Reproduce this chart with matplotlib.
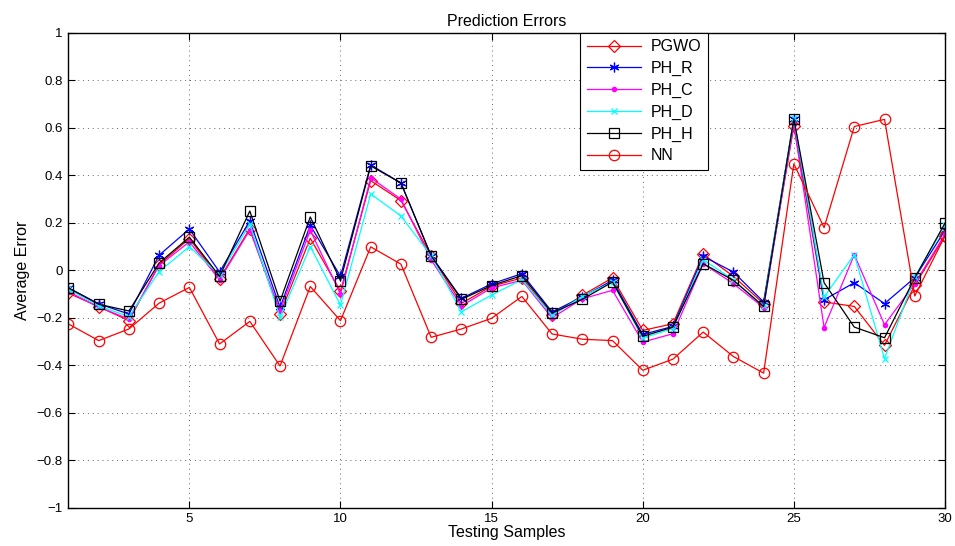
import matplotlib
matplotlib.use('Agg')
import matplotlib.pyplot as plt
from matplotlib.ticker import MultipleLocator, FuncFormatter

samples = list(range(1, 31))

pgwo = [-0.096, -0.153, -0.212, 0.024, 0.134, -0.035, 0.176, -0.184, 0.135, -0.088,
        0.378, 0.294, 0.061, -0.139, -0.067, -0.032, -0.189, -0.105, -0.032, -0.253,
        -0.225, 0.068, -0.025, -0.140, 0.608, -0.133, -0.152, -0.316, -0.063, 0.145]
ph_r = [-0.074, -0.141, -0.184, 0.064, 0.174, -0.007, 0.209, -0.156, 0.190, -0.025,
        0.444, 0.368, 0.061, -0.118, -0.057, -0.014, -0.175, -0.112, -0.042, -0.270,
        -0.236, 0.059, -0.007, -0.133, 0.639, -0.124, -0.052, -0.140, -0.031, 0.168]
ph_c = [-0.090, -0.155, -0.205, 0.020, 0.120, -0.040, 0.170, -0.170, 0.169, -0.100,
        0.390, 0.300, 0.044, -0.150, -0.074, -0.042, -0.200, -0.120, -0.084, -0.302,
        -0.267, 0.028, -0.056, -0.157, 0.618, -0.241, 0.066, -0.229, -0.056, 0.152]
ph_d = [-0.080, -0.150, -0.195, -0.005, 0.100, -0.020, 0.195, -0.198, 0.100, -0.146,
        0.322, 0.229, 0.061, -0.174, -0.104, -0.039, -0.190, -0.110, -0.050, -0.285,
        -0.245, 0.045, -0.040, -0.150, 0.640, -0.112, 0.066, -0.372, -0.028, 0.190]
ph_h = [-0.074, -0.143, -0.171, 0.031, 0.140, -0.025, 0.250, -0.130, 0.225, -0.043,
        0.440, 0.368, 0.061, -0.122, -0.064, -0.022, -0.180, -0.122, -0.049, -0.278,
        -0.239, 0.028, -0.042, -0.152, 0.639, -0.052, -0.239, -0.284, -0.032, 0.199]
nn = [-0.226, -0.296, -0.247, -0.138, -0.072, -0.310, -0.215, -0.403, -0.068, -0.212,
      0.099, 0.026, -0.282, -0.247, -0.202, -0.110, -0.268, -0.290, -0.296, -0.421,
      -0.374, -0.260, -0.363, -0.433, 0.449, 0.180, 0.606, 0.636, -0.108, 0.145]

plt.rcParams['font.family'] = ['Liberation Sans', 'DejaVu Sans']
plt.rcParams['font.size'] = 10

fig = plt.figure(figsize=(9.55, 5.46), dpi=100)
ax = fig.add_axes([0.0717, 0.0701, 0.9178, 0.8695])

lw = 0.9
ax.plot(samples, pgwo, color='red', lw=lw, marker='D', ms=6, mfc='none', mew=0.9, label='PGWO')
ax.plot(samples, ph_r, color='blue', lw=lw, marker=(6, 2, 0), ms=7, mew=0.9, label='PH_R')
ax.plot(samples, ph_c, color='magenta', lw=lw, marker='.', ms=6, label='PH_C')
ax.plot(samples, ph_d, color='cyan', lw=lw, marker='x', ms=4, mew=0.9, label='PH_D')
ax.plot(samples, ph_h, color='black', lw=lw, marker='s', ms=7, mfc='none', mew=0.9, label='PH_H')
ax.plot(samples, nn, color='red', lw=lw, marker='o', ms=7.5, mfc='none', mew=0.9, label='NN')

ax.set_xlim(1, 30)
ax.set_ylim(-1, 1)
ax.xaxis.set_major_locator(MultipleLocator(5))
ax.yaxis.set_major_locator(MultipleLocator(0.2))
ax.yaxis.set_major_formatter(FuncFormatter(lambda v, p: f'{round(v, 1):g}'.replace('-', '\u2212')))
ax.tick_params(direction='in', top=True, right=True, length=5, width=0.8, labelsize=9.5, pad=4)
ax.grid(True, linestyle=(0, (1, 4)), color='0.4', lw=0.7)
for s in ax.spines.values():
    s.set_linewidth(1.0)

ax.set_title('Prediction Errors', fontsize=11.5, pad=5)
ax.set_xlabel('Testing Samples', fontsize=11.5, labelpad=0)
ax.set_ylabel('Average Error', fontsize=11.5, labelpad=5)

leg = ax.legend(loc='upper left', bbox_to_anchor=(0.584, 1.0), fontsize=11.5,
                frameon=True, fancybox=False, framealpha=1, edgecolor='black',
                borderpad=0.4, labelspacing=0.42, handlelength=3.4, handletextpad=0.6,
                borderaxespad=0)
leg.get_frame().set_linewidth(0.8)

fig.savefig('out.png', dpi=100)
